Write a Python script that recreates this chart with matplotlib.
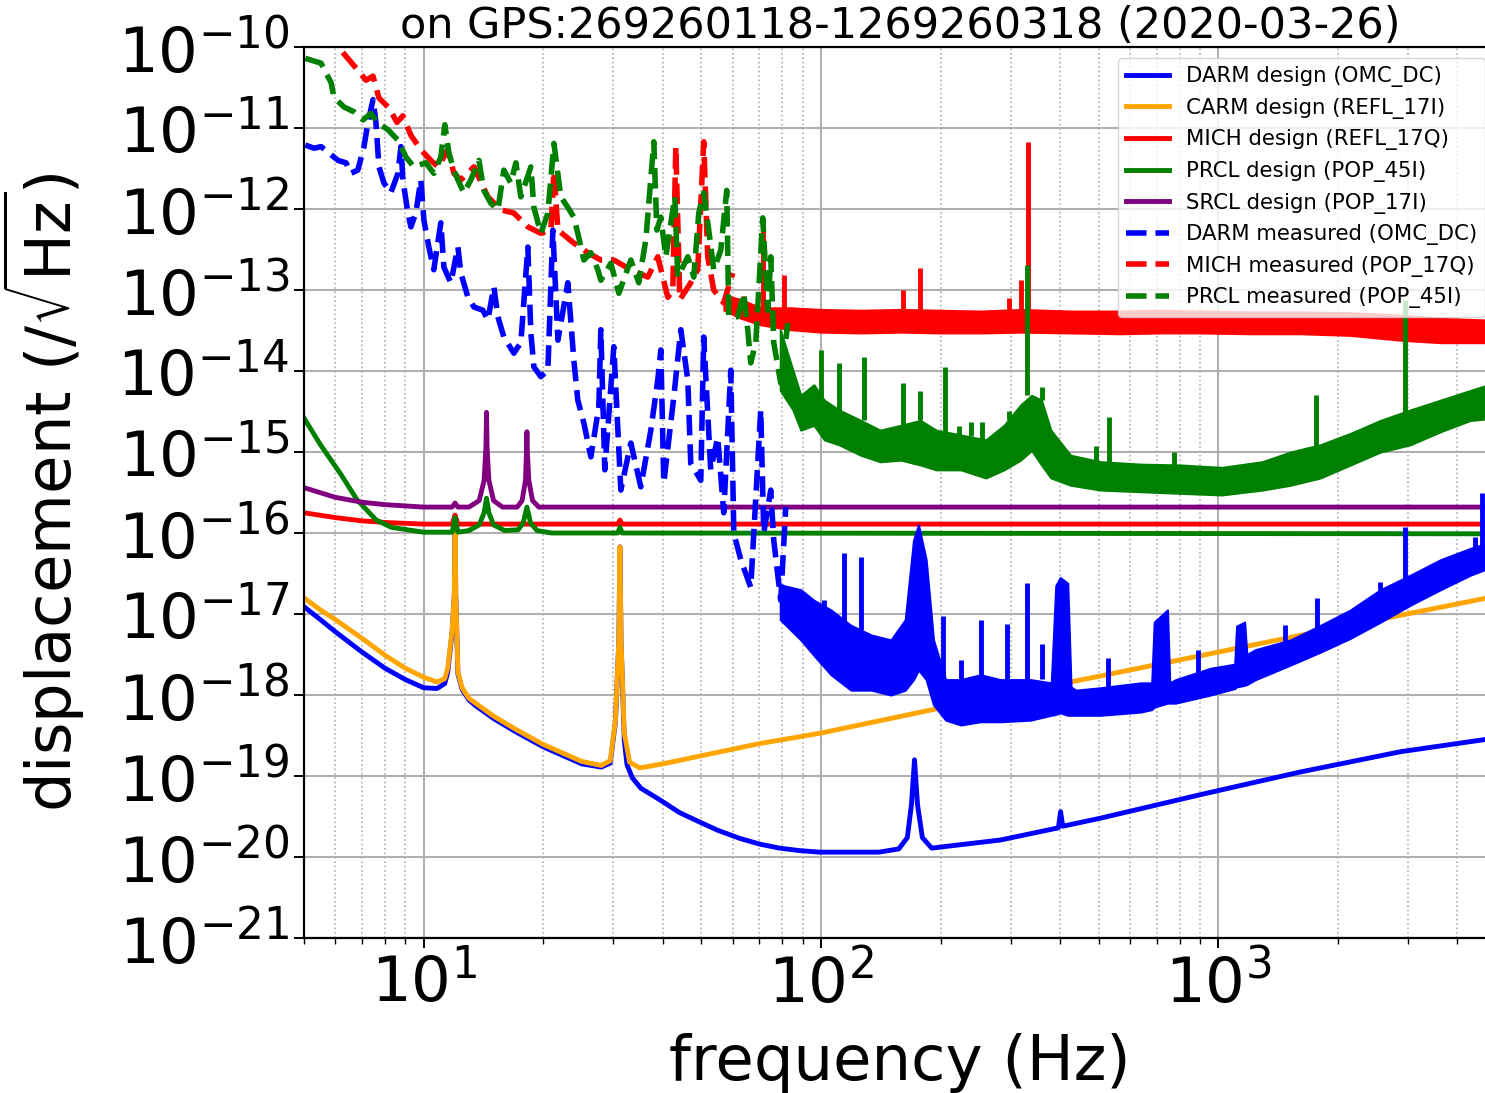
import matplotlib
matplotlib.use("Agg")
import matplotlib.pyplot as plt
import numpy as np
from matplotlib.ticker import LogLocator, NullLocator

# all displacement values below are log10 of the ASD

# --- design curves ---
darm_design_f = [5, 5.5, 6, 7, 8, 9, 10, 10.8, 11.3, 11.5, 11.8, 11.95, 12.0, 12.05, 12.2,
                 12.5, 13, 13.5, 15, 17, 20, 25, 28, 29.5, 30.4, 31.0, 31.2, 31.4, 32.0, 32.5,
                 33.5, 35.2, 39.5, 44, 49.6, 55, 62.5, 70, 78.6, 88, 99, 140, 157, 165, 169,
                 172, 175, 180, 190, 283, 396, 401, 406, 506, 902, 1610, 2876, 5000]
darm_design = [-16.91, -17.07, -17.22, -17.47, -17.67, -17.81, -17.91, -17.92, -17.86, -17.72,
               -17.22, -16.77, -15.81, -16.77, -17.74, -17.93, -18.06, -18.13, -18.29, -18.45,
               -18.64, -18.85, -18.89, -18.84, -18.33, -17.34, -16.17, -17.34, -18.56, -18.86,
               -19.02, -19.15, -19.30, -19.45, -19.57, -19.67, -19.77, -19.84, -19.89, -19.92,
               -19.94, -19.94, -19.90, -19.76, -19.35, -18.80, -19.35, -19.76, -19.89, -19.79,
               -19.64, -19.44, -19.62, -19.52, -19.23, -18.95, -18.70, -18.53]

carm_design_f = [5, 5.5, 6, 7, 8, 9, 10, 10.8, 11.3, 11.5, 11.8, 11.95, 12.0, 12.05, 12.2,
                 12.5, 13, 13.5, 15, 17, 20, 25, 28, 29.5, 30.4, 31.0, 31.2, 31.4, 32.0, 33.0,
                 35, 40, 50, 70, 100, 200, 500, 1000, 2000, 5000]
carm_design = [-16.80, -16.95, -17.07, -17.30, -17.51, -17.67, -17.78, -17.84, -17.80, -17.67,
               -17.20, -16.75, -15.78, -16.75, -17.72, -17.91, -18.04, -18.10, -18.26, -18.42,
               -18.61, -18.82, -18.87, -18.81, -18.31, -17.32, -16.17, -17.32, -18.47, -18.83,
               -18.90, -18.85, -18.75, -18.60, -18.47, -18.16, -17.77, -17.47, -17.17, -16.78]

mich_design_f = [5, 6, 7, 8, 10, 11.8, 12.0, 12.2, 30.8, 31.2, 31.6, 5000]
mich_design = [-15.75, -15.81, -15.85, -15.87, -15.89, -15.89, -15.78, -15.89, -15.89, -15.84,
               -15.89, -15.89]

prcl_design_f = [5, 5.5, 6.2, 6.8, 7.6, 8.3, 10, 11.8, 12.0, 12.2, 13.0, 13.8, 14.2, 14.4, 14.6,
                 15.0, 16, 17.3, 17.8, 18.2, 18.6, 19.3, 21, 30.8, 31.2, 31.6, 5000]
prcl_design = [-14.58, -14.91, -15.28, -15.59, -15.84, -15.93, -15.99, -15.99, -15.81, -15.99,
               -15.97, -15.90, -15.75, -15.57, -15.75, -15.90, -15.97, -15.96, -15.88, -15.68,
               -15.88, -15.97, -16.0, -16.0, -15.93, -16.0, -16.01]

srcl_design_f = [5, 6, 7, 8, 10, 11.8, 12.0, 12.2, 13.0, 13.8, 14.2, 14.35, 14.4, 14.45, 14.6,
                 15.0, 15.8, 17.2, 17.7, 18.05, 18.15, 18.2, 18.25, 18.4, 18.8, 19.5, 5000]
srcl_design = [-15.44, -15.56, -15.62, -15.65, -15.68, -15.68, -15.63, -15.68, -15.68, -15.60,
               -15.35, -14.95, -14.51, -14.95, -15.35, -15.60, -15.68, -15.68, -15.60, -15.35,
               -15.00, -14.75, -15.00, -15.35, -15.60, -15.68, -15.68]

# --- measured spectra: low-frequency trace ---
darm_meas_f = [5.04, 5.30, 5.52, 5.85, 6.09, 6.38, 6.56, 6.83, 7.08, 7.24,
               7.46, 7.59, 7.72, 7.95, 8.27, 8.62, 8.77, 8.87, 9.13, 9.29,
               9.56, 9.84, 10.02, 10.31, 10.61, 11.05, 11.25, 11.71, 12.20, 12.41,
               12.93, 13.39, 14.10, 14.51, 15.03, 15.38, 15.92, 16.87, 17.57, 18.30,
               18.62, 18.95, 19.73, 20.55, 21.15, 21.78, 23.07, 23.88, 24.44, 25.31,
               26.36, 27.61, 27.93, 28.58, 30.11, 31.36, 33.23, 35.21, 37.32, 38.85,
               39.54, 40.23, 42.63, 44.40, 46.23, 47.03, 49.85, 50.70, 52.80, 55.00,
               56.94, 59.31, 60.36, 62.85, 66.58, 70.56, 71.80, 74.77, 76.08, 79.22,
               81.56]
darm_meas = [-11.21, -11.25, -11.23, -11.33, -11.40, -11.43, -11.56, -11.52, -11.23, -10.94,
             -10.65, -10.94, -11.48, -11.68, -11.80, -11.56, -11.23, -11.64, -12.05, -12.22,
             -12.05, -11.64, -12.14, -12.47, -12.75, -12.17, -12.72, -12.91, -12.47, -12.79,
             -13.09, -13.21, -13.25, -13.37, -12.96, -13.33, -13.58, -13.78, -13.65, -12.47,
             -13.53, -13.95, -14.07, -13.99, -12.26, -13.62, -12.91, -13.86, -14.36, -14.64,
             -15.06, -14.44, -13.49, -15.22, -13.70, -15.47, -14.89, -15.43, -14.73, -14.11,
             -13.74, -15.38, -14.32, -13.49, -14.11, -15.14, -15.35, -13.58, -15.22, -14.82,
             -15.75, -13.99, -16.00, -16.33, -16.67, -14.48, -16.00, -15.47, -16.09, -16.83,
             -15.68]

mich_meas_f = [5.0, 6.12, 6.76, 7.16, 7.46, 7.72, 8.18, 8.57, 8.87, 9.29,
               9.85, 10.43, 10.87, 11.51, 11.92, 12.41, 13.39, 14.51, 15.65, 16.87,
               18.30, 19.73, 20.91, 21.28, 21.78, 23.88, 25.91, 27.93, 30.11, 33.23,
               36.67, 38.85, 41.18, 42.39, 43.13, 44.14, 47.03, 48.97, 50.70, 51.89,
               53.73, 56.94, 59.99]
mich_meas = [-9.52, -10.01, -10.26, -10.41, -10.36, -10.63, -10.75, -10.93, -10.85, -11.09,
             -11.27, -11.40, -11.48, -11.27, -11.56, -11.64, -11.48, -11.85, -12.01, -12.05,
             -12.22, -12.30, -12.26, -11.54, -12.26, -12.42, -12.54, -12.63, -12.63, -12.75,
             -12.84, -12.59, -13.09, -13.00, -11.23, -13.12, -12.91, -12.75, -11.17, -12.59,
             -13.00, -13.16, -12.79]

prcl_meas_f = [5.04, 5.52, 5.85, 5.95, 6.30, 6.68, 7.04, 7.37, 7.67, 8.13,
               8.62, 9.03, 9.45, 10.13, 10.61, 11.05, 11.31, 11.58, 11.92, 12.20,
               12.63, 13.15, 13.78, 14.18, 14.77, 15.38, 15.92, 16.58, 17.07, 17.57,
               18.62, 18.95, 19.73, 20.55, 21.28, 22.15, 23.07, 23.88, 24.44, 25.31,
               26.36, 27.45, 27.93, 29.60, 31.00, 33.23, 34.80, 36.25, 37.97, 38.64,
               39.54, 40.70, 42.88, 43.63, 46.23, 47.86, 49.27, 50.70, 52.20, 53.73,
               55.96, 57.94, 58.62, 61.76, 63.93, 65.43, 66.58, 68.55, 71.38, 73.48,
               74.77, 76.08, 79.22, 82.51]
prcl_meas = [-10.14, -10.20, -10.44, -10.62, -10.74, -10.80, -10.90, -10.82, -10.94, -11.02,
             -11.15, -11.36, -11.48, -11.43, -11.56, -11.36, -10.96, -11.31, -11.52, -11.64,
             -11.80, -11.64, -11.40, -11.77, -11.93, -12.01, -11.52, -11.68, -11.43, -11.85,
             -11.48, -11.98, -12.30, -12.05, -11.19, -11.85, -11.98, -12.10, -12.30, -12.63,
             -12.54, -12.75, -12.88, -12.67, -13.04, -12.63, -12.91, -12.38, -11.17, -12.26,
             -12.10, -12.59, -11.85, -12.84, -12.59, -12.84, -12.05, -11.80, -12.26, -12.75,
             -12.51, -11.77, -13.33, -13.33, -13.04, -13.49, -13.90, -13.65, -12.11, -13.25,
             -12.59, -13.65, -14.15, -13.41]

# --- measured spectra: dense high-frequency noise band (upper / lower edge) ---
darm_band_f = [79, 89, 96, 106, 119, 134, 150, 163, 171, 176, 184, 192, 206, 225, 252, 283,
               337, 380, 390, 400, 418, 426, 438, 506, 638, 680, 690, 745, 755, 781, 956, 1100,
               1112, 1165, 1180, 1241, 1520, 1808, 2151, 2560, 3046, 3624, 4312, 5000]
darm_band_hi = [-16.64, -16.70, -16.83, -16.95, -17.14, -17.26, -17.32, -17.07, -16.09, -15.90,
                -16.33, -17.32, -17.81, -17.81, -17.75, -17.81, -17.81, -17.85, -16.65, -16.55,
                -16.62, -17.90, -17.94, -17.91, -17.85, -17.85, -17.10, -16.95, -17.85, -17.81,
                -17.67, -17.62, -17.15, -17.10, -17.50, -17.44, -17.32, -17.14, -16.95, -16.70,
                -16.52, -16.33, -16.19, -16.09]
darm_band_lo = [-17.07, -17.32, -17.51, -17.75, -17.94, -17.94, -18.00, -17.94, -17.81, -17.69,
                -17.81, -18.12, -18.31, -18.37, -18.33, -18.33, -18.31, -18.25, -18.24, -18.22,
                -18.25, -18.25, -18.25, -18.25, -18.21, -18.18, -18.15, -18.10, -18.10, -18.10,
                -18.00, -17.92, -17.90, -17.88, -17.87, -17.81, -17.63, -17.47, -17.30, -17.10,
                -16.89, -16.70, -16.52, -16.40]

mich_band_f = [57, 63, 70.6, 84, 100, 126, 159, 200, 252, 318, 425, 565, 716, 902, 1200, 1610,
               2151, 2876, 3624, 4705, 5000]
mich_band_hi = [-13.06, -13.12, -13.22, -13.22, -13.24, -13.25, -13.24, -13.25, -13.26, -13.24,
                -13.26, -13.26, -13.25, -13.26, -13.27, -13.27, -13.28, -13.31, -13.35, -13.37,
                -13.37]
mich_band_lo = [-13.25, -13.35, -13.43, -13.49, -13.52, -13.53, -13.52, -13.53, -13.53, -13.52,
                -13.53, -13.54, -13.53, -13.53, -13.54, -13.54, -13.56, -13.62, -13.65, -13.65,
                -13.65]

prcl_band_f = [79, 85, 89, 96, 102, 111, 126, 141, 159, 178, 195, 225, 260, 289, 318, 339, 359,
               379, 425, 506, 638, 803, 1020, 1290, 1520, 1808, 2151, 2560, 3046, 3624, 4312,
               5000]
prcl_band_hi = [-13.49, -13.99, -14.30, -14.17, -14.36, -14.48, -14.61, -14.73, -14.67, -14.61,
                -14.73, -14.79, -14.85, -14.67, -14.42, -14.30, -14.36, -14.73, -15.04, -15.12,
                -15.15, -15.16, -15.19, -15.12, -15.00, -14.91, -14.77, -14.61, -14.48, -14.36,
                -14.24, -14.14]
prcl_band_lo = [-14.24, -14.48, -14.73, -14.67, -14.85, -14.91, -15.04, -15.12, -15.10, -15.16,
                -15.22, -15.22, -15.32, -15.22, -15.10, -14.98, -15.16, -15.32, -15.41, -15.47,
                -15.49, -15.51, -15.53, -15.47, -15.41, -15.32, -15.16, -15.00, -14.91, -14.75,
                -14.61, -14.58]

# --- narrow lines sticking out of the noise bands: frequency, foot, tip ---
darm_spike_f = [101.6, 114.1, 125.9, 203, 225, 252.4, 294, 331, 360, 527, 887, 1470, 1777,
                2560, 2959, 4439, 4623]
darm_spike_base = [-17.0, -17.1, -17.2, -17.85, -17.85, -17.85, -17.85, -17.85, -17.8, -17.95,
                   -17.8, -17.4, -17.2, -16.8, -16.6, -16.3, -16.25]
darm_spike_top = [-16.83, -16.25, -16.30, -17.03, -17.57, -17.07, -17.12, -16.62, -17.37, -17.54,
                  -17.44, -17.14, -16.80, -16.61, -15.93, -16.05, -15.51]

mich_spike_f = [63.6, 71.4, 80.6, 160.6, 178, 297, 318, 331.3]
mich_spike_base = [-13.2, -13.25, -13.25, -13.25, -13.25, -13.25, -13.25, -13.25]
mich_spike_top = [-13.07, -12.14, -12.82, -13.00, -12.73, -13.10, -12.88, -11.17]

prcl_spike_f = [100, 111, 128, 160.6, 178, 205, 222, 238, 255, 297, 331, 361, 491, 530, 772,
                1767, 2959]
prcl_spike_base = [-14.4, -14.5, -14.6, -14.67, -14.6, -14.75, -14.79, -14.8, -14.85, -14.6,
                   -14.3, -14.36, -15.12, -15.13, -15.16, -14.92, -14.5]
prcl_spike_top = [-13.74, -13.90, -13.83, -14.15, -14.25, -13.95, -14.68, -14.63, -14.63, -14.49,
                  -12.69, -14.20, -14.93, -14.57, -15.00, -14.30, -13.12]

title = "on GPS:269260118-1269260318 (2020-03-26)"


def asd(vals):
    return 10.0 ** np.array(vals)


fig = plt.figure(figsize=(14.85, 10.93), dpi=100)
ax = fig.add_axes([0.2047, 0.1418, 0.8027, 0.8152])

design_lw = 3.5
meas_lw = 4.0
spike_lw = 3.5
ax.loglog(darm_design_f, asd(darm_design), color="blue", lw=design_lw, label="DARM design (OMC_DC)")
ax.loglog(carm_design_f, asd(carm_design), color="orange", lw=design_lw, label="CARM design (REFL_17I)")
ax.loglog(mich_design_f, asd(mich_design), color="red", lw=design_lw, label="MICH design (REFL_17Q)")
ax.loglog(prcl_design_f, asd(prcl_design), color="green", lw=design_lw, label="PRCL design (POP_45I)")
ax.loglog(srcl_design_f, asd(srcl_design), color="purple", lw=design_lw, label="SRCL design (POP_17I)")

measured = [
    ("blue", "DARM measured (OMC_DC)", darm_meas_f, darm_meas, darm_band_f, darm_band_lo,
     darm_band_hi, darm_spike_f, darm_spike_base, darm_spike_top),
    ("red", "MICH measured (POP_17Q)", mich_meas_f, mich_meas, mich_band_f, mich_band_lo,
     mich_band_hi, mich_spike_f, mich_spike_base, mich_spike_top),
    ("green", "PRCL measured (POP_45I)", prcl_meas_f, prcl_meas, prcl_band_f, prcl_band_lo,
     prcl_band_hi, prcl_spike_f, prcl_spike_base, prcl_spike_top),
]
for i, (c, lab, f, v, bf, blo, bhi, sf, sb, st) in enumerate(measured):
    z = 2.2 + 0.1 * i
    ax.loglog(f, asd(v), "--", color=c, lw=meas_lw, label=lab, zorder=z)
    ax.fill_between(bf, asd(blo), asd(bhi), color=c, lw=1.5, edgecolor=c, zorder=z)
    ax.vlines(sf, asd(sb), asd(st), color=c, lw=spike_lw, zorder=z)

ax.set_xlim(5, 5000)
ax.set_ylim(1e-21, 1e-10)
ax.yaxis.set_major_locator(LogLocator(base=10, numticks=30))
ax.yaxis.set_minor_locator(NullLocator())

ax.grid(which="major", color="#b0b0b0", lw=1.5)
ax.grid(which="minor", axis="x", color="#b0b0b0", lw=1.2, linestyle=":")
ax.tick_params(which="major", labelsize=45, length=7, width=1.4)
ax.tick_params(which="minor", length=4, width=1.0)
for sp in ax.spines.values():
    sp.set_linewidth(1.6)

ax.set_xlabel("frequency (Hz)", fontsize=45, labelpad=12)
ax.set_ylabel(r"displacement (/$\sqrt{\mathrm{Hz}}$)", fontsize=45, labelpad=22)
ax.set_title(title, fontsize=31, pad=2)
ax.legend(loc="upper right", fontsize=15.3)

fig.savefig("out.png", dpi=100)
